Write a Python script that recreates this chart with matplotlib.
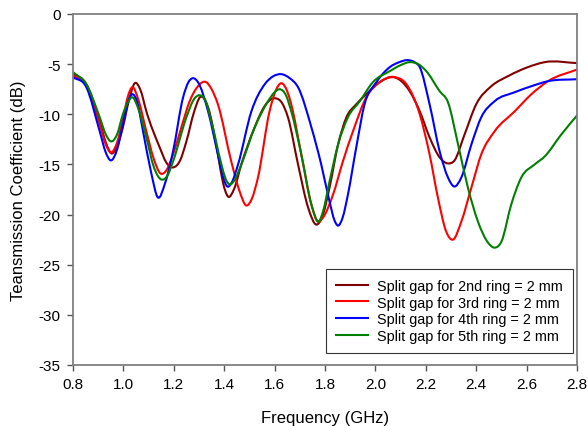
import matplotlib
matplotlib.use("Agg")
import matplotlib.pyplot as plt
from matplotlib.path import Path
from matplotlib.patches import PathPatch
from matplotlib.lines import Line2D

plt.rcParams['font.family'] = ['Liberation Sans', 'DejaVu Sans']

labels = ["Split gap for 2nd ring = 2 mm", "Split gap for 3rd ring = 2 mm",
          "Split gap for 4th ring = 2 mm", "Split gap for 5th ring = 2 mm"]
colors = ["#800000", "#ff0000", "#0000ff", "#008000"]

f2 = [0.800, 0.853, 0.906, 0.930, 0.952, 0.975, 0.998, 1.022, 1.045, 1.068, 1.091, 1.144, 1.170, 1.197, 1.225,
      1.250, 1.280, 1.304, 1.336, 1.375, 1.395, 1.415, 1.440, 1.468, 1.521, 1.560, 1.600, 1.630, 1.653, 1.693,
      1.733, 1.766, 1.792, 1.818, 1.852, 1.885, 1.924, 1.964, 2.017, 2.076, 2.136, 2.176, 2.215, 2.255, 2.288,
      2.314, 2.354, 2.400, 2.460, 2.526, 2.605, 2.672, 2.804]
s2 = [-5.9, -7.0, -10.7, -12.8, -13.9, -13.2, -11.3, -8.6, -6.9, -7.6, -9.7, -13.3, -14.8, -15.3, -14.6,
      -12.7, -9.8, -8.3, -9.3, -14.0, -16.8, -18.2, -17.4, -15.0, -11.3, -9.2, -8.4, -8.9, -10.3, -15.0,
      -19.3, -21.0, -20.0, -17.3, -13.0, -10.3, -9.0, -8.0, -6.8, -6.3, -7.7, -9.7, -12.3, -14.3, -14.9,
      -14.6, -12.0, -9.0, -7.2, -6.2, -5.3, -4.8, -4.9]

f3 = [0.800, 0.853, 0.906, 0.930, 0.952, 0.975, 0.998, 1.018, 1.035, 1.060, 1.091, 1.120, 1.147, 1.170, 1.197,
      1.230, 1.263, 1.296, 1.329, 1.350, 1.375, 1.428, 1.460, 1.488, 1.510, 1.534, 1.580, 1.605, 1.627, 1.650,
      1.666, 1.706, 1.746, 1.772, 1.792, 1.832, 1.871, 1.911, 1.964, 2.017, 2.070, 2.123, 2.176, 2.215, 2.248,
      2.281, 2.308, 2.341, 2.381, 2.420, 2.473, 2.553, 2.619, 2.685, 2.804]
s3 = [-6.1, -7.2, -11.0, -13.0, -13.8, -12.8, -10.5, -8.2, -7.3, -8.6, -11.7, -14.4, -15.9, -15.6, -14.0,
      -11.3, -8.7, -7.2, -6.8, -7.5, -9.0, -14.7, -17.6, -19.1, -18.4, -16.3, -9.7, -7.6, -6.9, -7.7,
      -9.0, -14.0, -19.0, -20.7, -20.3, -18.0, -14.7, -11.7, -8.3, -6.8, -6.3, -7.0, -10.0, -14.0, -18.3,
      -21.7, -22.5, -20.7, -17.3, -14.0, -11.7, -9.7, -8.0, -6.7, -5.5]

f4 = [0.800, 0.853, 0.906, 0.930, 0.950, 0.975, 0.998, 1.018, 1.035, 1.055, 1.078, 1.110, 1.137, 1.165, 1.197,
      1.237, 1.258, 1.276, 1.296, 1.336, 1.375, 1.395, 1.412, 1.430, 1.455, 1.508, 1.561, 1.595, 1.627, 1.660,
      1.693, 1.746, 1.785, 1.818, 1.838, 1.852, 1.870, 1.891, 1.924, 1.957, 2.004, 2.057, 2.095, 2.130, 2.155,
      2.176, 2.215, 2.255, 2.288, 2.312, 2.341, 2.381, 2.420, 2.473, 2.553, 2.619, 2.685, 2.804]
s4 = [-6.3, -7.3, -11.7, -13.8, -14.6, -13.5, -11.0, -8.8, -8.0, -8.8, -11.7, -15.8, -18.3, -16.9, -13.7,
      -8.3, -6.8, -6.4, -6.8, -9.7, -14.0, -16.2, -17.2, -16.8, -15.0, -9.7, -7.0, -6.2, -6.0, -6.4,
      -7.3, -11.3, -15.0, -18.7, -20.6, -21.1, -20.3, -18.0, -13.3, -9.0, -6.8, -5.3, -4.8, -4.6, -4.8,
      -5.3, -9.0, -13.7, -16.3, -17.2, -16.3, -13.0, -10.3, -8.7, -7.8, -7.2, -6.7, -6.5]

f5 = [0.800, 0.853, 0.906, 0.930, 0.950, 0.975, 0.998, 1.018, 1.035, 1.060, 1.091, 1.120, 1.150, 1.175, 1.197,
      1.250, 1.280, 1.303, 1.325, 1.349, 1.389, 1.405, 1.422, 1.440, 1.468, 1.521, 1.574, 1.600, 1.620, 1.645,
      1.666, 1.706, 1.746, 1.775, 1.792, 1.818, 1.852, 1.891, 1.938, 1.990, 2.057, 2.100, 2.136, 2.170, 2.202,
      2.255, 2.288, 2.328, 2.367, 2.407, 2.447, 2.473, 2.500, 2.539, 2.579, 2.632, 2.672, 2.738, 2.804]
s5 = [-5.8, -7.0, -10.3, -12.0, -12.7, -12.0, -10.0, -8.8, -8.3, -9.5, -12.3, -15.2, -16.5, -16.1, -14.7,
      -10.3, -8.5, -8.1, -8.6, -10.7, -15.0, -16.4, -17.0, -16.6, -15.0, -11.3, -8.7, -7.8, -7.5, -8.1,
      -9.7, -14.0, -19.0, -20.7, -19.7, -16.7, -13.0, -10.3, -8.7, -6.8, -5.7, -5.1, -4.8, -5.0, -5.7,
      -7.7, -8.8, -13.0, -17.3, -20.7, -22.8, -23.3, -22.7, -19.0, -16.3, -15.0, -14.2, -12.0, -10.0]

freqs = [f2, f3, f4, f5]
series = [s2, s3, s4, s5]

xticks = [0.8, 1.0, 1.2, 1.4, 1.6, 1.8, 2.0, 2.2, 2.4, 2.6, 2.8]
yticks = [0, -5, -10, -15, -20, -25, -30, -35]


def smooth_path(x, y):
    """Cubic Hermite (Bezier) path through the read points, drawn by matplotlib."""
    n = len(x)
    d = [(y[i + 1] - y[i]) / (x[i + 1] - x[i]) for i in range(n - 1)]
    m = [0.0] * n
    m[0] = d[0]
    m[-1] = d[-1]
    for i in range(1, n - 1):
        h0 = x[i] - x[i - 1]
        h1 = x[i + 1] - x[i]
        m[i] = (d[i - 1] * h1 + d[i] * h0) / (h0 + h1)
    verts = [(x[0], y[0])]
    codes = [Path.MOVETO]
    for i in range(n - 1):
        h = x[i + 1] - x[i]
        verts += [(x[i] + h / 3, y[i] + m[i] * h / 3),
                  (x[i + 1] - h / 3, y[i + 1] - m[i + 1] * h / 3),
                  (x[i + 1], y[i + 1])]
        codes += [Path.CURVE4] * 3
    return Path(verts, codes)


fig = plt.figure(figsize=(5.88, 4.27), dpi=100)
ax = fig.add_axes([73/588, 1-366/427, 504/588, 351/427])

handles = []
for f, s, c, lab in zip(freqs, series, colors, labels):
    ax.add_patch(PathPatch(smooth_path(f, s), facecolor='none', edgecolor=c,
                           lw=1.5, joinstyle='round', capstyle='round'))
    handles.append(Line2D([], [], color=c, lw=1.5, label=lab))

ax.set_xlim(0.8, 2.8)
ax.set_ylim(-35, 0)
ax.set_xticks(xticks)
ax.set_xticklabels([f"{t:.1f}" for t in xticks])
ax.set_yticks(yticks)
ax.set_yticklabels([str(t) for t in yticks])
ax.tick_params(direction='out', length=4, width=1, color='#555555', labelsize=11, pad=5)
for sp in ax.spines.values():
    sp.set_color('#808080')
    sp.set_linewidth(1.3)
ax.set_xlabel("Frequency (GHz)", fontsize=12, labelpad=13)
ax.set_ylabel("Teansmission Coefficient (dB)", fontsize=12, labelpad=9)

leg = ax.legend(handles=handles, loc='lower right', bbox_to_anchor=(0.9915, 0.033), borderaxespad=0,
                fontsize=10.4, frameon=True, fancybox=False, edgecolor='black', handlelength=2.2,
                borderpad=0.7, labelspacing=0.2, handletextpad=0.6)
leg.get_frame().set_linewidth(0.8)

fig.savefig("out.png", dpi=100)
